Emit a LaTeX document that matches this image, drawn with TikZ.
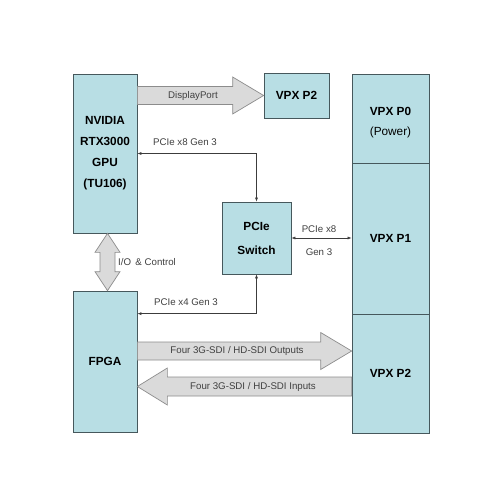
\documentclass[tikz,border=0pt]{standalone}
\usepackage{fontspec}
\setmainfont{Liberation Sans}
\usetikzlibrary{calc,arrows.meta}
\definecolor{boxfill}{RGB}{184,222,228}
\definecolor{boxline}{RGB}{70,88,92}
\definecolor{arrfill}{RGB}{218,218,218}
\definecolor{arrline}{RGB}{140,140,140}
\definecolor{conncol}{RGB}{60,60,60}
\tikzset{
  blk/.style={draw=boxline, fill=boxfill, line width=0.7pt, inner sep=0pt, align=center,
    font=\fontsize{11.8}{21}\selectfont\bfseries},
  bigarrow/.style={draw=arrline, fill=arrfill, line width=0.7pt, line join=miter},
  conn/.style={draw=conncol, line width=0.6pt, {Latex[length=4pt,width=3pt]}-{Latex[length=4pt,width=3pt]}},
  lbl/.style={font=\fontsize{9.7}{12}\selectfont, text=black!75, inner sep=0pt},
}
\begin{document}
\begin{tikzpicture}[x=1pt,y=-1pt]
\path[use as bounding box, fill=white] (0,0) rectangle (500,500);
% boxes
\node[blk, minimum width=64pt, minimum height=159pt] (gpu) at (105,153.5) {NVIDIA\\RTX3000\\GPU\\(TU106)};
\node[blk, minimum width=65pt, minimum height=45pt] (p2t) at (296.5,95.5) {VPX P2};
\node[blk, minimum width=69pt, minimum height=72pt, font=\fontsize{11.8}{24}\selectfont\bfseries] (sw) at (256.5,238) {PCIe\\Switch};
\node[blk, minimum width=77pt, minimum height=89pt] (p0) at (390.5,118.5) {};
\node[font=\fontsize{11.8}{20}\selectfont, align=center, inner sep=0pt] (p0t) at ([yshift=-4.5pt]p0.center) {\textbf{VPX P0}\\(Power)};
\node[blk, minimum width=77pt, minimum height=151pt] (p1) at (390.5,238.5) {VPX P1};
\node[blk, minimum width=77pt, minimum height=119pt] (p2) at (390.5,373.5) {VPX P2};
\node[blk, minimum width=64pt, minimum height=141pt] (fpga) at (105,361.5) {FPGA};
% DisplayPort block arrow
\coordinate (dpA) at (gpu.east |- p2t.west);
\coordinate (dpB) at (p2t.west);
\path[bigarrow] ($(dpA)+(0,-9)$) -- ($(dpB)+(-31,-9)$) -- ($(dpB)+(-31,-18.5)$) -- (dpB)
  -- ($(dpB)+(-31,18.5)$) -- ($(dpB)+(-31,9)$) -- ($(dpA)+(0,9)$) -- cycle;
\node[lbl] (dplbl) at (193,96) {DisplayPort};
% Outputs block arrow
\coordinate (oA) at ($(fpga.east)+(0,-10.5)$);
\coordinate (oB) at (oA -| p2.west);
\path[bigarrow] ($(oA)+(0,-9)$) -- ($(oB)+(-31,-9)$) -- ($(oB)+(-31,-18.5)$) -- (oB)
  -- ($(oB)+(-31,18.5)$) -- ($(oB)+(-31,9)$) -- ($(oA)+(0,9)$) -- cycle;
\node[lbl] (olbl) at (237,351) {Four 3G-SDI / HD-SDI Outputs};
% Inputs block arrow
\coordinate (iA) at ($(fpga.east)+(0,25)$);
\coordinate (iB) at (iA -| p2.west);
\path[bigarrow] ($(iB)+(0,-9.5)$) -- ($(iA)+(30,-9.5)$) -- ($(iA)+(30,-18.5)$) -- (iA)
  -- ($(iA)+(30,18.5)$) -- ($(iA)+(30,9.5)$) -- ($(iB)+(0,9.5)$) -- cycle;
\node[lbl] (ilbl) at (253,387) {Four 3G-SDI / HD-SDI Inputs};
% I/O & Control double block arrow
\coordinate (ioT) at ([xshift=2.5pt]gpu.south);
\coordinate (ioB) at (ioT |- fpga.north);
\path[bigarrow] (ioT) -- ($(ioT)+(12.5,19)$) -- ($(ioT)+(7.5,19)$) -- ($(ioB)+(7.5,-19)$)
  -- ($(ioB)+(12.5,-19)$) -- (ioB) -- ($(ioB)+(-12.5,-19)$) -- ($(ioB)+(-7.5,-19)$)
  -- ($(ioT)+(-7.5,19)$) -- ($(ioT)+(-12.5,19)$) -- cycle;
\node[lbl, anchor=west] (iolbl) at (118,262) {I/O \,\& Control};
% thin connectors
\draw[conn] (gpu.east) -| (sw.north);
\node[lbl] (l1) at (185,142) {PCIe x8 Gen 3};
\draw[conn] ($(fpga.north east)+(0,23)$) -| (sw.south);
\node[lbl] (l2) at (186,302) {PCIe x4 Gen 3};
\draw[conn] (sw.east) -- (sw.east -| p1.west);
\node[lbl] (l3) at (319,229) {PCIe x8};
\node[lbl] (l4) at (319,252) {Gen 3};
\end{tikzpicture}
\end{document}
